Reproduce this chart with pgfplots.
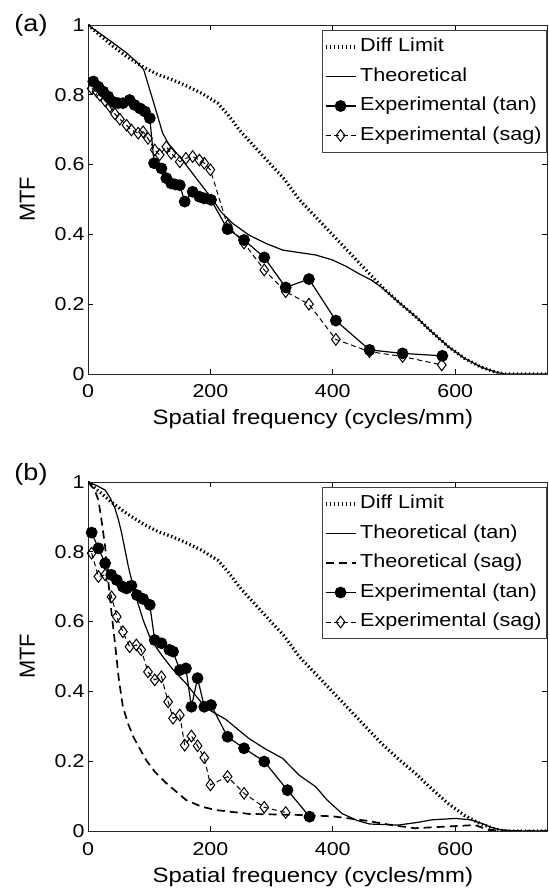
\documentclass[border=0pt]{standalone}
\usepackage{fontspec}
\setmainfont{Liberation Sans}[FakeStretch=1.15]
\newfontfamily\plainfont{Liberation Sans}
\usepackage{pgfplots}
\pgfplotsset{compat=1.18}

\newcommand\tickfont{\fontsize{18.6}{22}\selectfont}
\newcommand\legfont{\fontsize{18.8}{22}\selectfont}
\newcommand\xlabfont{\fontsize{20.8}{24}\selectfont}
\newcommand\ylabfont{\plainfont\fontsize{21.9}{26}\selectfont}
\newcommand\panelfont{\fontsize{23.5}{28}\selectfont}

\pgfplotsset{
  mtf/.style={
    scale only axis, width=459pt, height=349pt,
    xmin=0, xmax=750, ymin=0, ymax=1,
    xtick={0,200,400,600}, ytick={0,0.2,0.4,0.6,0.8,1},
    tick align=inside, major tick length=5pt,
    axis line style={line width=0.9pt, black!85},
    tick style={black, line width=0.7pt},
    /pgf/number format/assume math mode=true,
    ticklabel style={font=\tickfont},
    xticklabel style={anchor=base, yshift=-24pt},
    xlabel style={font=\xlabfont, at={(axis description cs:0.49,0)}, anchor=base, yshift=-51pt, inner sep=0pt},
    ylabel style={font=\ylabfont, at={(axis description cs:-0.132,0.5)}, anchor=center, inner sep=0pt},
    xlabel={Spatial frequency (cycles/mm)}, ylabel={MTF},
    legend style={at={(axis description cs:1,0.986)}, anchor=north east,
      draw=black!75, line width=0.8pt, font=\legfont, inner xsep=2pt, inner ysep=2pt,
      row sep=0pt, cells={anchor=west},
      nodes={text height=13.5pt, text depth=4pt, inner ysep=6pt, inner xsep=3pt}},
    legend image code/.code={\draw[mark repeat=2,mark phase=2,##1] plot coordinates {(0pt,0pt) (15pt,0pt) (30pt,0pt)};},
  },
  difflim/.style={black, line width=3.2pt, dash pattern=on 1.4pt off 2.6pt},
  theo/.style={black, line width=1.2pt},
  theosag/.style={black, line width=1.7pt, dash pattern=on 8pt off 5pt},
  exptan/.style={black, line width=1.2pt, mark=*, mark size=5.3pt, mark options={solid, fill=black}},
  expsag/.style={black, line width=1pt, dash pattern=on 5pt off 3.5pt, mark=diamond, mark size=5.8pt, mark options={solid, fill=white, line width=1pt}},
}

\pgfplotstableread{
x y
0 1
20 0.97
40 0.94
63 0.91
90 0.88
114 0.858
135 0.845
158 0.828
185 0.805
212 0.776
230 0.74
247 0.70
270 0.655
291 0.615
320 0.56
345 0.50
372 0.45
399 0.40
426 0.35
453 0.30
480 0.25
508 0.205
535 0.165
562 0.12
589 0.078
615 0.045
642 0.02
665 0.006
680 0
750 0
}\difftable

\begin{document}
\begin{tikzpicture}
\useasboundingbox (0,0) rectangle (548pt,890pt);
\node[font=\panelfont] at (31pt,865pt) {(a)};
\node[font=\panelfont] at (31pt,416pt) {(b)};

\begin{axis}[mtf, at={(88pt,516pt)}, anchor=south west]
\addplot[difflim] table {\difftable};
\addlegendentry{Diff Limit}
\addplot[theo] coordinates {
(0,1) (40,0.95) (63,0.92) (80,0.893) (91,0.872) (106,0.785) (122,0.69) (131,0.661)
(152,0.618) (175,0.565) (204,0.499) (217,0.465) (236,0.432) (263,0.398) (291,0.374)
(318,0.355) (345,0.348) (372,0.341) (399,0.327) (420,0.31) (442,0.288) (462,0.27)
(480,0.248) (508,0.205) (535,0.165) (562,0.12) (589,0.078) (615,0.045) (642,0.02)
(665,0.006) (680,0) (750,0)};
\addlegendentry{Theoretical}
\addplot[exptan] coordinates {
(8.7,0.838) (17,0.823) (25,0.809) (33,0.795) (41,0.780) (49,0.776) (57,0.776)
(68,0.785) (76,0.771) (85,0.761) (93,0.752) (101,0.733) (108,0.604) (120,0.589)
(128,0.561) (136,0.546) (143,0.543) (150,0.541) (158,0.494) (171,0.522) (182,0.508)
(190,0.503) (201,0.499) (228,0.415) (255,0.384) (288,0.334) (323,0.248) (361,0.272)
(405,0.153) (460,0.069) (514,0.059) (579,0.052)};
\addlegendentry{Experimental (tan)}
\addplot[expsag] coordinates {
(6,0.818) (14,0.81) (19.5,0.799) (28,0.783) (36,0.766) (44,0.745) (52,0.73)
(63,0.713) (71,0.699) (82,0.690) (90,0.694) (98,0.675) (109,0.642) (117,0.628)
(128,0.651) (136,0.632) (150,0.608) (160,0.618) (171,0.623) (182,0.613) (190,0.604)
(200,0.585) (228,0.425) (255,0.375) (288,0.298) (323,0.236) (361,0.2) (405,0.099)
(460,0.064) (514,0.05) (578,0.026)};
\addlegendentry{Experimental (sag)}
\end{axis}

\begin{axis}[mtf, at={(88pt,59pt)}, anchor=south west]
\addplot[difflim] table {\difftable};
\addlegendentry{Diff Limit}
\addplot[theo] coordinates {
(0,1) (14,0.99) (28,0.977) (36,0.955) (44,0.925) (50,0.89) (55,0.853) (60,0.81)
(66,0.757) (74,0.70) (82,0.65) (90,0.605) (100,0.56) (110,0.53) (122,0.5) (140,0.46)
(160,0.423) (182,0.375) (200,0.345) (225,0.32) (263,0.265) (290,0.235) (318,0.208)
(345,0.16) (372,0.127) (390,0.09) (415,0.05) (440,0.03) (460,0.02) (507,0.017)
(540,0.025) (562,0.032) (600,0.036) (625,0.032) (643,0.022) (660,0.01) (675,0.003)
(700,0) (750,0)};
\addlegendentry{Theoretical (tan)}
\addplot[theosag] coordinates {
(0,1) (11,0.977) (17,0.948) (22,0.891) (28,0.815) (33,0.719) (38.5,0.624) (44,0.54)
(50,0.44) (57,0.356) (66,0.305) (74,0.27) (95,0.203) (110,0.168) (128,0.137) (160,0.089)
(185,0.07) (209,0.06) (263,0.049) (345,0.046) (400,0.042) (453,0.03) (496,0.017)
(534,0.008) (589,0.013) (632,0.017) (655,0.003) (700,0) (750,0)};
\addlegendentry{Theoretical (sag)}
\addplot[exptan] coordinates {
(6,0.855) (17,0.81) (28,0.767) (38,0.734) (47,0.719) (57,0.70) (63,0.695) (71,0.703)
(80,0.676) (90,0.665) (101,0.648) (109,0.547) (120,0.538) (133,0.519) (139,0.514)
(150,0.461) (160,0.466) (169,0.356) (179,0.438) (190,0.356) (201,0.361) (228,0.27)
(255,0.237) (288,0.199) (326,0.117) (362,0.041)};
\addlegendentry{Experimental (tan)}
\addplot[expsag] coordinates {
(6,0.796) (17,0.729) (28,0.734) (38.5,0.671) (47,0.614) (57,0.571) (68,0.528)
(79,0.533) (87,0.519) (98,0.456) (109,0.433) (120,0.442) (131,0.37) (139,0.323)
(150,0.332) (158,0.246) (169,0.272) (179,0.244) (190,0.21) (200,0.132) (228,0.156)
(255,0.108) (288,0.068) (323,0.053)};
\addlegendentry{Experimental (sag)}
\end{axis}
\end{tikzpicture}
\end{document}
